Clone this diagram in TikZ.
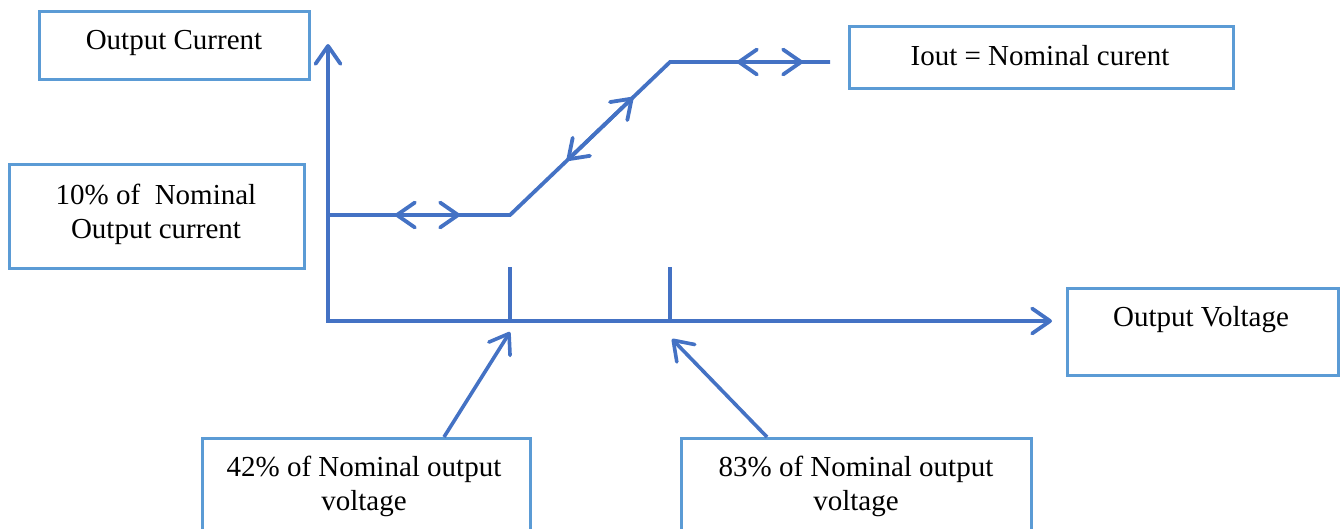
\documentclass[tikz,border=0pt]{standalone}
\usepackage{fontspec}
\setmainfont{Liberation Serif}
\usetikzlibrary{arrows.meta,calc}
\definecolor{lineblue}{HTML}{4472C4}
\definecolor{boxblue}{HTML}{5B9BD5}
\tikzset{
  frame/.style={draw=boxblue, line width=2.6pt, fill=none, inner sep=0pt, anchor=north west},
  txt/.style={font=\fontsize{29}{34}\selectfont, align=center, inner sep=0pt, text=black},
  barb/.tip={Straight Barb[length=18pt, width=25pt, round]},
  curve/.style={draw=lineblue, line width=3.8pt, line join=miter},
  dbl/.style={draw=lineblue, line width=3.8pt, {barb}-{barb}},
  ptr/.style={draw=lineblue, line width=3.6pt, -{barb}},
}
\begin{document}
\begin{tikzpicture}[x=1pt, y=-1pt]
\useasboundingbox (0,0) rectangle (1343,528);
\clip (0,0) rectangle (1343,528);

% label boxes
\node[frame, minimum width=270pt, minimum height=68pt]  (bcur)  at (38,10)   {};
\node[frame, minimum width=295pt, minimum height=104pt] (bten)  at (8,163)   {};
\node[frame, minimum width=384pt, minimum height=62pt]  (biout) at (848,25)  {};
\node[frame, minimum width=271pt, minimum height=87pt]  (bvolt) at (1066,287) {};
\node[frame, minimum width=328pt, minimum height=120pt] (b42)   at (201,437) {};
\node[frame, minimum width=350pt, minimum height=120pt] (b83)   at (680,437) {};

% label texts
\node[txt] (tcur)  at (174,43)   {Output Current};
\node[txt] (tten)  at (156,214)  {10\% of~ Nominal\\Output current};
\node[txt] (tiout) at (1040,56)  {Iout = Nominal curent};
\node[txt] (tvolt) at (1201,320) {Output Voltage};
\node[txt] (t42)   at (364,486)  {42\% of Nominal output\\voltage};
\node[txt] (t83)   at (856,486)  {83\% of Nominal output\\voltage};

% axes
\coordinate (O)    at (328,321);
\coordinate (ytip) at (328,44);
\coordinate (xtip) at (1052,321);
\draw[curve, {barb}-{barb}] (ytip) -- (O) -- (xtip);

% current limit characteristic
\coordinate (c0) at (328,215);
\coordinate (c1) at (510,215);
\coordinate (c2) at (670,62);
\coordinate (c3) at (830,62);
\draw[curve] (c0) -- (c1) -- (c2) -- (c3);

% double arrows along the characteristic
\coordinate (h1) at (395,215);
\coordinate (h2) at (460,215);
\draw[dbl] (h1) -- (h2);
\draw[dbl] ($(c1)!0.356!(c2)$) -- ($(c1)!0.769!(c2)$);
\coordinate (u1) at (737,62);
\coordinate (u2) at (803,62);
\draw[dbl] (u1) -- (u2);

% voltage ticks
\coordinate (k1top) at (510,267);
\coordinate (k1bot) at (510,321);
\coordinate (k2top) at (670,267);
\coordinate (k2bot) at (670,321);
\draw[curve] (k1top) -- (k1bot);
\draw[curve] (k2top) -- (k2bot);

% pointers from the voltage labels
\coordinate (p1) at (510,332);
\coordinate (p2) at (672,339);
\draw[ptr] (b42.north -| 444,0) -- (p1);
\draw[ptr] (b83.north -| 767,0) -- (p2);
\end{tikzpicture}
\end{document}
